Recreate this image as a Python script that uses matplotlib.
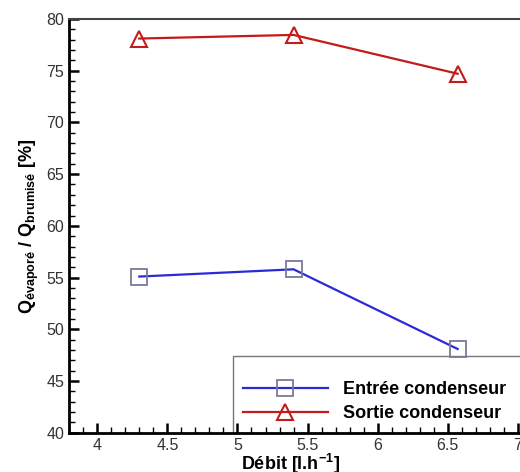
import matplotlib.pyplot as plt
from matplotlib.patches import Rectangle
from matplotlib.ticker import MultipleLocator

plt.rcParams['font.family'] = 'Liberation Sans'
plt.rcParams['mathtext.fontset'] = 'custom'
plt.rcParams['mathtext.rm'] = 'Liberation Sans:bold'
plt.rcParams['mathtext.it'] = 'Liberation Sans:bold'
plt.rcParams['mathtext.bf'] = 'Liberation Sans:bold'

# Data
debit = [4.3, 5.4, 6.57]
entree = [55.1, 55.8, 48.1]
sortie = [78.1, 78.45, 74.7]

W, H = 520, 472
fig = plt.figure(figsize=(W / 100, H / 100), dpi=100)
ax = fig.add_axes([0.133, 0.083, 1.05 - 0.133, 0.877])

ax.plot(debit, entree, color='#2a2ad8', lw=1.6, marker='s', ms=11,
        mfc='none', mec='#7a7a9a', mew=1.3, label='Entrée condenseur')
ax.plot(debit, sortie, color='#c41a1a', lw=1.6, marker='^', ms=11,
        mfc='none', mec='#c41a1a', mew=1.5, label='Sortie condenseur')

ax.set_xlim(3.8, 7.2)
ax.set_ylim(40, 80)
ax.xaxis.set_minor_locator(MultipleLocator(0.1))
ax.yaxis.set_major_locator(MultipleLocator(5))
ax.yaxis.set_minor_locator(MultipleLocator(1))
ax.set_xticks([4, 4.5, 5, 5.5, 6, 6.5, 7])
ax.set_xticklabels(['4', '4.5', '5', '5.5', '6', '6.5', '7'])
ax.tick_params(which='major', direction='in', length=7, width=1.8, labelsize=11.5,
               colors='black', labelcolor='#333333')
ax.tick_params(which='minor', direction='in', length=4, width=1.0)

for s in ['left', 'bottom']:
    ax.spines[s].set_linewidth(2)
ax.spines['top'].set_linewidth(1.5)
ax.spines['top'].set_color('#444444')

ax.set_xlabel('Débit [l.h$^{-1}$]', fontsize=13, fontweight='bold')
ax.xaxis.set_label_coords((290 - 69) / (1.05 * W - 69), -0.045)
ax.set_ylabel('$Q_{évaporé}$ / $Q_{brumisé}$ [%]', fontsize=13,
              fontweight='bold', labelpad=4)

# legend frame runs off the right edge, drawn under the axis ticks
frame = Rectangle((233 / W, 39 / H), 0.6, 77 / H, transform=fig.transFigure,
                  facecolor='white', edgecolor='#777777', lw=1.0, zorder=1.5,
                  clip_on=False)
ax.add_patch(frame)

ax.legend(loc='upper left', bbox_to_anchor=(243 / W, 1 - 381 / H),
          bbox_transform=fig.transFigure, prop={'weight': 'bold', 'size': 13},
          frameon=False, handlelength=4.7, handletextpad=0.85, borderpad=0,
          borderaxespad=0, labelspacing=0.4)

fig.savefig('out.png', dpi=100)
